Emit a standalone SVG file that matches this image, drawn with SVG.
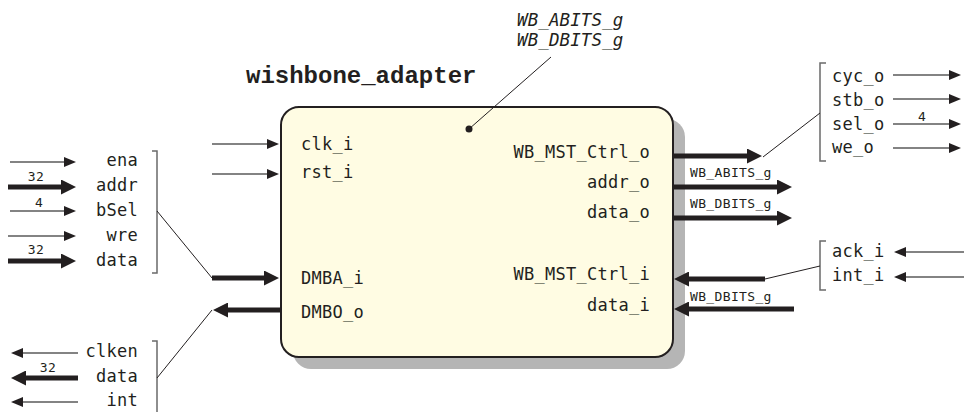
<svg xmlns="http://www.w3.org/2000/svg" width="964" height="412" viewBox="0 0 964 412">
  <defs>
    <marker id="headThin" viewBox="0 0 12 10" refX="1" refY="5" markerWidth="12" markerHeight="10" markerUnits="userSpaceOnUse" orient="auto">
      <path d="M0,0 L12,5 L0,10 z" fill="#231f20"/>
    </marker>
    <marker id="headThick" viewBox="0 0 15 15" refX="1" refY="7.5" markerWidth="15" markerHeight="15" markerUnits="userSpaceOnUse" orient="auto">
      <path d="M0,0 L15,7.5 L0,15 z" fill="#231f20"/>
    </marker>
  </defs>
  <style>
    .thin { stroke: #5a5a5a; stroke-width: 1.3; fill: none; marker-end: url(#headThin); }
    .thick { stroke: #231f20; stroke-width: 5; fill: none; marker-end: url(#headThick); }
    .lead { stroke: #231f20; stroke-width: 1; fill: none; }
    .brk { stroke: #6a6a6a; stroke-width: 1.5; fill: none; }
    .port { font-family: "DejaVu Sans Mono", "Liberation Mono", monospace; font-size: 17px; letter-spacing: 0.27px; fill: #231f20; }
    .small { font-family: "DejaVu Sans Mono", "Liberation Mono", monospace; font-size: 13px; letter-spacing: 0.35px; fill: #231f20; }
    .param { font-family: "DejaVu Sans Mono", "Liberation Mono", monospace; font-style: italic; font-size: 17.5px; letter-spacing: 0.1px; fill: #231f20; }
    .title { font-family: "Liberation Mono", "Courier New", monospace; font-weight: bold; font-size: 24px; fill: #231f20; }
    .end { text-anchor: end; }
    .mid { text-anchor: middle; }
  </style>

  <!-- entity block -->
  <g id="wishbone_adapter">
    <rect x="293" y="119" width="392" height="250" rx="18" fill="#b5b5b5"/>
    <rect x="281" y="107" width="392" height="250" rx="18" fill="#fffce3" stroke="#231f20" stroke-width="2"/>
    <text class="title" x="246" y="83">wishbone_adapter</text>
    <text class="port" x="301" y="150">clk_i</text>
    <text class="port" x="301" y="178">rst_i</text>
    <text class="port" x="301" y="284">DMBA_i</text>
    <text class="port" x="301" y="318">DMBO_o</text>
    <text class="port end" x="650" y="158">WB_MST_Ctrl_o</text>
    <text class="port end" x="650" y="188">addr_o</text>
    <text class="port end" x="650" y="218">data_o</text>
    <text class="port end" x="650" y="280">WB_MST_Ctrl_i</text>
    <text class="port end" x="650" y="311">data_i</text>
    <circle cx="469" cy="129" r="3.5" fill="#231f20"/>
  </g>

  <!-- generics -->
  <g id="generics">
    <text class="param" x="517" y="26">WB_ABITS_g</text>
    <text class="param" x="517" y="46">WB_DBITS_g</text>
  </g>

  <!-- bus signals on the left: input record -->
  <g id="dmba_fields">
    <text class="port end" x="138" y="166">ena</text>
    <text class="port end" x="138" y="191">addr</text>
    <text class="port end" x="138" y="216">bSel</text>
    <text class="port end" x="138" y="241">wre</text>
    <text class="port end" x="138" y="266">data</text>
    <text class="small mid" x="36" y="181">32</text>
    <text class="small mid" x="39" y="207">4</text>
    <text class="small mid" x="36" y="254">32</text>
    <path class="brk" d="M152,151 H157 V273 H152"/>
  </g>

  <!-- bus signals on the left: output record -->
  <g id="dmbo_fields">
    <text class="port end" x="138" y="357">clken</text>
    <text class="port end" x="138" y="382">data</text>
    <text class="port end" x="138" y="406">int</text>
    <text class="small mid" x="48" y="372">32</text>
    <path class="brk" d="M152,341 H157 V412"/>
  </g>

  <!-- master control outputs -->
  <g id="ctrl_o_fields">
    <text class="port" x="832" y="82">cyc_o</text>
    <text class="port" x="832" y="106">stb_o</text>
    <text class="port" x="832" y="130">sel_o</text>
    <text class="port" x="832" y="153">we_o</text>
    <text class="small mid" x="922" y="121">4</text>
    <path class="brk" d="M826,63 H820 V161 H826"/>
  </g>

  <!-- master control inputs -->
  <g id="ctrl_i_fields">
    <text class="port" x="832" y="257">ack_i</text>
    <text class="port" x="832" y="281">int_i</text>
    <path class="brk" d="M826,241 H820 V290 H826"/>
  </g>

  <!-- width labels on the wishbone buses -->
  <g id="bus_widths">
    <text class="small" x="690" y="177">WB_ABITS_g</text>
    <text class="small" x="690" y="208">WB_DBITS_g</text>
    <text class="small" x="690" y="301">WB_DBITS_g</text>
  </g>

  <!-- connectors -->
  <g id="connectors">
    <!-- block ports -->
    <line class="thin" x1="212" y1="144" x2="268" y2="144"/>
    <line class="thin" x1="212" y1="174" x2="268" y2="174"/>
    <line class="thick" x1="212" y1="278" x2="265" y2="278"/>
    <line class="thick" x1="281" y1="310" x2="227" y2="310"/>
    <line class="thick" x1="673" y1="156" x2="748" y2="156"/>
    <line class="thick" x1="673" y1="187" x2="778" y2="187"/>
    <line class="thick" x1="673" y1="218" x2="778" y2="218"/>
    <line class="thick" x1="765" y1="279" x2="688" y2="279"/>
    <line class="thick" x1="794" y1="309" x2="688" y2="309"/>

    <!-- left record fields -->
    <line class="thin" x1="10" y1="162" x2="65" y2="162"/>
    <line class="thick" x1="8" y1="187" x2="62" y2="187"/>
    <line class="thin" x1="10" y1="211" x2="65" y2="211"/>
    <line class="thin" x1="8" y1="236" x2="65" y2="236"/>
    <line class="thick" x1="8" y1="261" x2="62" y2="261"/>
    <line class="thin" x1="78" y1="353" x2="22" y2="353"/>
    <line class="thick" x1="78" y1="378" x2="25" y2="378"/>
    <line class="thin" x1="78" y1="402" x2="22" y2="402"/>

    <!-- right record fields -->
    <line class="thin" x1="893" y1="75" x2="950" y2="75"/>
    <line class="thin" x1="893" y1="99" x2="950" y2="99"/>
    <line class="thin" x1="893" y1="124" x2="950" y2="124"/>
    <line class="thin" x1="893" y1="148" x2="950" y2="148"/>
    <line class="thin" x1="964" y1="252" x2="905" y2="252"/>
    <line class="thin" x1="964" y1="277" x2="905" y2="277"/>

    <!-- leaders -->
    <line class="lead" x1="157" y1="211" x2="212" y2="278"/>
    <line class="lead" x1="157" y1="378" x2="212" y2="310"/>
    <line class="lead" x1="763" y1="157" x2="820" y2="113"/>
    <line class="lead" x1="765" y1="279" x2="820" y2="266"/>
    <line class="lead" x1="551" y1="57" x2="469" y2="129"/>
  </g>
</svg>
